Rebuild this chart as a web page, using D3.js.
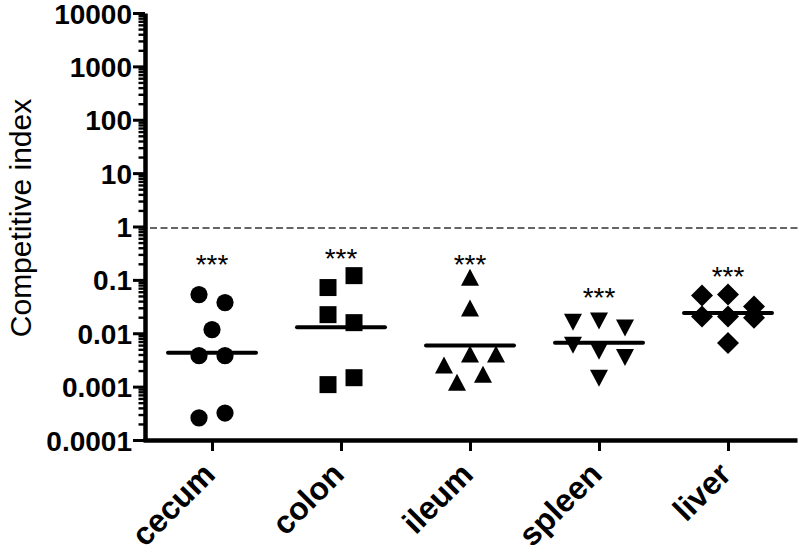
<!DOCTYPE html>
<html><head><meta charset="utf-8">
<script src="https://cdn.jsdelivr.net/npm/d3@7"></script>
<style>body{margin:0;background:#fff}svg{display:block}</style>
</head><body><svg id="chart" width="800" height="554"></svg>
<script>
// ---------------- data ----------------
const categories = ["cecum", "colon", "ileum", "spleen", "liver"];
// within a group, values are listed left-to-right for points sitting at similar height
const cecum  = [0.053, 0.0375, 0.0117, 0.0038, 0.0038, 0.00026, 0.00032];
const colon  = [0.0718, 0.12, 0.0223, 0.0158, 0.00109, 0.00147];
const ileum  = [0.11, 0.029, 0.0025, 0.0040, 0.00118, 0.0040, 0.00167];
const spleen = [0.0165, 0.0173, 0.0128, 0.0061, 0.0047, 0.0036, 0.00147];
const liver  = [0.0507, 0.053, 0.0316, 0.0205, 0.0205, 0.0196, 0.0066];
const seriesValues = [cecum, colon, ileum, spleen, liver];
const significance = ["***", "***", "***", "***", "***"];
const significanceAt = [0.27, 0.34, 0.27, 0.063, 0.156];
const referenceValue = 1;
const yTickValues = [10000, 1000, 100, 10, 1, 0.1, 0.01, 0.001, 0.0001];
const yTickLabels = ["10000", "1000", "100", "10", "1", "0.1", "0.01", "0.001", "0.0001"];
const yTitle = "Competitive index";

// ---------------- layout ----------------
const svg = d3.select("#chart");
const FONT = "'Liberation Sans', Arial, Helvetica, sans-serif";
const axisX = 145, axisBottom = 440;

const y = d3.scaleLog().domain([1e-4, 1e4]).range([axisBottom, 13]);
const x = d3.scalePoint().domain(categories).range([143, 797]).padding(0.535);

// symbol types
const sym = {
  circle: d3.symbolCircle,
  square: d3.symbolSquare,
  triUp: { draw(c, s) { const w = Math.sqrt(s); c.moveTo(0, -w/2); c.lineTo(w/2, w/2 - 1); c.lineTo(-w/2, w/2 - 1); c.closePath(); } },
  triDown: { draw(c, s) { const w = Math.sqrt(s); c.moveTo(0, w/2); c.lineTo(w/2, -w/2 + 1); c.lineTo(-w/2, -w/2 + 1); c.closePath(); } },
  diamond: { draw(c, s) { const w = Math.sqrt(s); c.moveTo(0, -w/2); c.lineTo(w/2, 0); c.lineTo(0, w/2); c.lineTo(-w/2, 0); c.closePath(); } }
};
const groupSymbols = [
  d3.symbol(sym.circle, Math.PI * 8.6 * 8.6),
  d3.symbol(sym.square, 17 * 17),
  d3.symbol(sym.triUp, 18 * 18),
  d3.symbol(sym.triDown, 18 * 18),
  d3.symbol(sym.diamond, 22 * 22)
];

// reference dashed line
svg.append("line")
  .attr("x1", axisX + 5).attr("x2", 800)
  .attr("y1", y(referenceValue) + 1.5).attr("y2", y(referenceValue) + 1.5)
  .attr("stroke", "#333").attr("stroke-width", 1.6)
  .attr("stroke-dasharray", "7,3.5");

// y axis: minor ticks
const minor = [];
for (let e = -4; e < 4; e++) for (let m = 2; m <= 9; m++) minor.push(m * Math.pow(10, e));
const gMinor = svg.append("g").attr("transform", `translate(${axisX},0)`)
  .call(d3.axisLeft(y).tickValues(minor).tickSize(6.5).tickFormat(""));
gMinor.select(".domain").remove();
gMinor.selectAll(".tick line").attr("stroke", "#000").attr("stroke-width", 2.4);

// y axis: major ticks
const gY = svg.append("g").attr("transform", `translate(${axisX},0)`)
  .call(d3.axisLeft(y).tickValues(yTickValues).tickSize(12).tickSizeOuter(0).tickPadding(1)
        .tickFormat((d, i) => yTickLabels[i]));
gY.select(".domain").attr("stroke", "#000").attr("stroke-width", 4.5);
gY.selectAll(".tick line").attr("stroke", "#000").attr("stroke-width", 3);
gY.selectAll(".tick text").attr("font-family", FONT).attr("font-weight", "bold")
  .attr("font-size", 28).attr("fill", "#000").attr("dy", "0.36em");

// x axis
const gX = svg.append("g").attr("transform", `translate(0,${axisBottom})`)
  .call(d3.axisBottom(x).tickSize(11).tickSizeOuter(0).tickFormat(""));
gX.select(".domain").attr("stroke", "#000").attr("stroke-width", 4.5);
gX.selectAll(".tick line").attr("stroke", "#000").attr("stroke-width", 3);
gX.selectAll(".tick").append("text")
  .attr("transform", "translate(-12,20) rotate(-45)")
  .attr("text-anchor", "end")
  .attr("dy", "0.72em")
  .attr("font-family", FONT).attr("font-weight", "bold").attr("font-size", 32)
  .attr("fill", "#000")
  .text(d => d);

// y title
svg.append("text")
  .attr("transform", `translate(31,218) rotate(-90)`)
  .attr("text-anchor", "middle")
  .attr("font-family", FONT).attr("font-size", 30).attr("fill", "#000")
  .text(yTitle);

// point placement: points at similar height share a row and are spread sideways
function spread(values, cx) {
  const pts = values.map((v, i) => ({ v, i, py: y(v) }));
  const sorted = pts.slice().sort((a, b) => a.py - b.py);
  const rows = [];
  sorted.forEach(p => {
    const last = rows[rows.length - 1];
    if (last && p.py - last[0].py < 12.5) last.push(p); else rows.push([p]);
  });
  rows.forEach(row => {
    row.sort((a, b) => a.i - b.i);
    const n = row.length;
    row.forEach((p, k) => p.px = cx + (k - (n - 1) / 2) * 26);
  });
  return pts;
}

categories.forEach((cat, gi) => {
  const cx = x(cat);
  const vals = seriesValues[gi];
  const pts = spread(vals, cx);
  svg.append("g").selectAll("path").data(pts).join("path")
    .attr("d", groupSymbols[gi])
    .attr("transform", d => `translate(${d.px},${d.py})`)
    .attr("fill", "#000");
  // geometric mean line
  const gm = Math.pow(10, d3.mean(vals, v => Math.log10(v)));
  svg.append("line")
    .attr("x1", cx - 44).attr("x2", cx + 44)
    .attr("y1", y(gm)).attr("y2", y(gm))
    .attr("stroke", "#000").attr("stroke-width", 4).attr("stroke-linecap", "round");
  // significance
  svg.append("text")
    .attr("x", cx).attr("y", y(significanceAt[gi]))
    .attr("dy", "0.6em")
    .attr("text-anchor", "middle")
    .attr("font-family", FONT).attr("font-size", 28).attr("fill", "#000")
    .text(significance[gi]);
});
</script>
</body></html>
